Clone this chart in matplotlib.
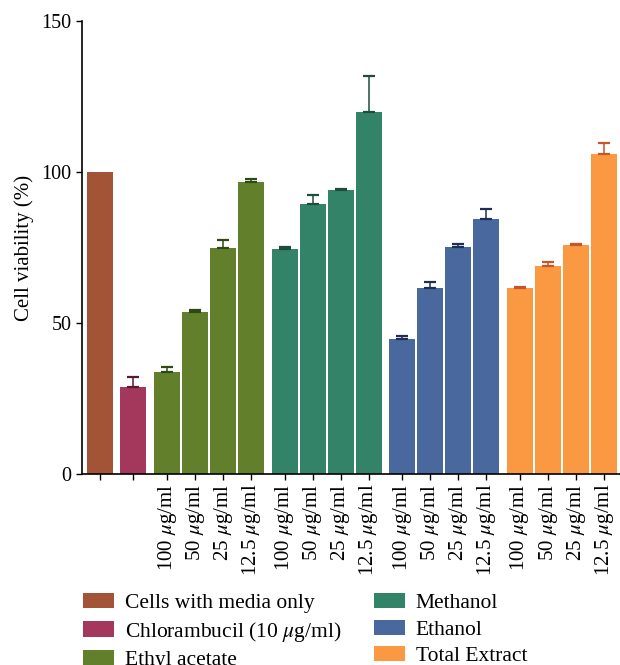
import matplotlib
matplotlib.use('Agg')
import matplotlib.pyplot as plt
from matplotlib.patches import Patch
import numpy as np

plt.rcParams['font.family'] = 'Liberation Serif'
plt.rcParams['mathtext.fontset'] = 'stix'

# groups and values
groups = ['Cells with media only', 'Chlorambucil (10 $\\mu$g/ml)', 'Ethyl acetate',
          'Methanol', 'Ethanol', 'Total Extract']
doses = ['100 $\\mu$g/ml', '50 $\\mu$g/ml', '25 $\\mu$g/ml', '12.5 $\\mu$g/ml']

control = [100.0]
chlorambucil = [28.8]
chlorambucil_err = [3.4]
ethyl_acetate = [33.8, 53.6, 74.8, 96.7]
ethyl_acetate_err = [1.7, 0.8, 2.6, 1.1]
methanol = [74.5, 89.4, 94.0, 119.9]
methanol_err = [0.6, 3.1, 0.5, 12.0]
ethanol = [44.7, 61.6, 75.2, 84.4]
ethanol_err = [1.0, 2.1, 1.1, 3.5]
total_extract = [61.6, 68.9, 75.8, 106.0]
total_extract_err = [0.4, 1.4, 0.3, 3.7]

colors = ['#A35436', '#A3385C', '#62802C', '#338369', '#48689E', '#FB9842']
err_colors = ['#A35436', '#5A1A30', '#2E4A14', '#1E4D3C', '#1E2E55', '#C8552A']

series = [control, chlorambucil, ethyl_acetate, methanol, ethanol, total_extract]
errs = [[0.0], chlorambucil_err, ethyl_acetate_err, methanol_err, ethanol_err, total_extract_err]

fig = plt.figure(figsize=(6.2, 6.65), dpi=100)
ax = fig.add_axes([0.132, 0.2872, 0.868, 0.6812])

gap = 0.2
pos = 0.0
xticks = []
xlabels = []
for i, (vals, e) in enumerate(zip(series, errs)):
    x = pos + np.arange(len(vals))
    ax.bar(x, vals, width=0.93, color=colors[i], zorder=2)
    if i > 0:
        ax.errorbar(x, vals, yerr=[np.zeros(len(vals)), e], fmt='none',
                    ecolor=err_colors[i], elinewidth=1.1, capsize=4.3,
                    capthick=1.6, zorder=3)
    xticks.extend(x)
    xlabels.extend(doses if len(vals) == 4 else [''])
    pos = x[-1] + 1 + gap

ax.set_xticks(xticks)
ax.set_xticklabels(xlabels, rotation=90, fontsize=15)
ax.set_xlim(-0.64, 18.57)
ax.set_ylim(0, 150)
ax.set_yticks([0, 50, 100, 150])
ax.tick_params(axis='y', labelsize=14.5, length=4, width=1)
ax.tick_params(axis='x', length=4, width=1, pad=3)
ax.set_ylabel('Cell viability (%)', fontsize=15, labelpad=5)
for s in ['top', 'right']:
    ax.spines[s].set_visible(False)
for s in ['left', 'bottom']:
    ax.spines[s].set_linewidth(1.2)

handles = [Patch(facecolor=c, label=g) for c, g in zip(colors, groups)]
fig.legend(handles=handles, loc='upper left', bbox_to_anchor=(83 / 620, 1 - 593 / 665),
           ncol=2, frameon=False, fontsize=15.5, handlelength=1.45, handleheight=0.7,
           handletextpad=0.5, columnspacing=1.5, labelspacing=0.3,
           borderpad=0, borderaxespad=0)

fig.savefig('out.png', dpi=100)
